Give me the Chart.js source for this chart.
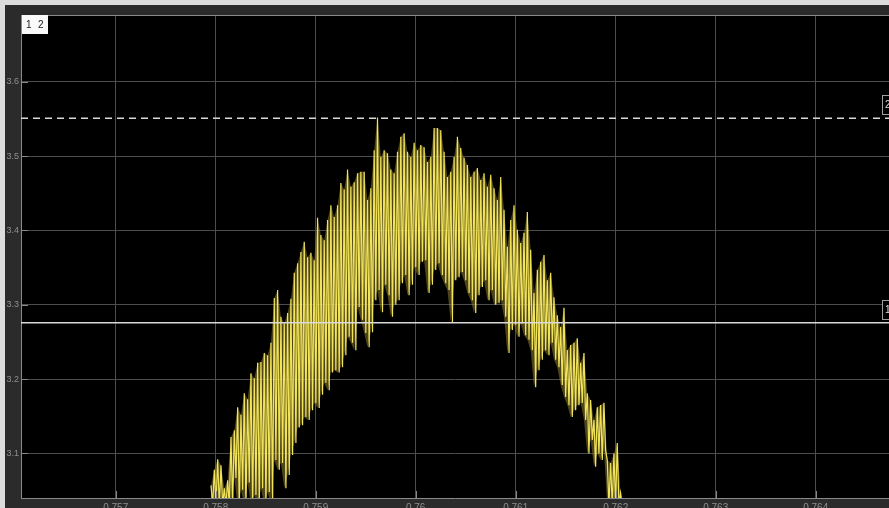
<!DOCTYPE html>
<html>
<head>
<meta charset="utf-8">
<script src="https://cdn.jsdelivr.net/npm/chart.js@4.4.1/dist/chart.umd.min.js"></script>
<style>
  html, body { margin: 0; padding: 0; background: #2b2b2b; overflow: hidden; }
  #scope { display: block; }
</style>
</head>
<body>
<canvas id="scope" width="889" height="508"></canvas>
<script>
// axis setup
const X_MIN = 0.756053;
const X_MAX = 0.764733;
const Y_MIN = 3.04;
const Y_MAX = 3.69;
const X_TICKS = [0.757, 0.758, 0.759, 0.76, 0.761, 0.762, 0.763, 0.764];
const X_TICK_LABELS = ["0.757", "0.758", "0.759", "0.76", "0.761", "0.762", "0.763", "0.764"];
const Y_TICKS = [3.1, 3.2, 3.3, 3.4, 3.5, 3.6];
const Y_TICK_LABELS = ["3.1", "3.2", "3.3", "3.4", "3.5", "3.6"];

// cursors: 1 = solid, 2 = dashed
const CURSOR_NAMES = ["1", "2"];
const CURSOR_LEVELS = [3.276, 3.551];

// sampled voltage: one peak + one trough per switching period
const SAMPLE_START = 0.757953;
const SAMPLE_STEP = 0.0000333;
const PEAKS = [
  3.057, 3.078, 3.092, 3.084, 3.053, 3.064, 3.122, 3.131, 3.162, 3.152,
  3.181, 3.173, 3.208, 3.201, 3.222, 3.223, 3.235, 3.232, 3.249, 3.309,
  3.320, 3.284, 3.275, 3.289, 3.308, 3.343, 3.356, 3.371, 3.385, 3.364,
  3.370, 3.360, 3.417, 3.394, 3.387, 3.414, 3.434, 3.418, 3.434, 3.464,
  3.455, 3.482, 3.459, 3.465, 3.477, 3.479, 3.479, 3.441, 3.457, 3.508,
  3.552, 3.499, 3.508, 3.504, 3.482, 3.477, 3.506, 3.526, 3.531, 3.506,
  3.499, 3.518, 3.508, 3.515, 3.512, 3.492, 3.499, 3.538, 3.538, 3.535,
  3.506, 3.472, 3.479, 3.499, 3.526, 3.511, 3.498, 3.488, 3.472, 3.479,
  3.484, 3.468, 3.477, 3.459, 3.475, 3.457, 3.441, 3.472, 3.428, 3.378,
  3.414, 3.434, 3.401, 3.383, 3.397, 3.425, 3.374, 3.316, 3.347, 3.358,
  3.367, 3.333, 3.343, 3.310, 3.286, 3.270, 3.296, 3.239, 3.246, 3.249,
  3.255, 3.222, 3.235, 3.181, 3.172, 3.145, 3.162, 3.165, 3.168, 3.091,
  3.087, 3.100, 3.114, 3.047
];
const TROUGHS = [
  3.030, 3.030, 3.030, 3.030, 3.030, 3.030, 3.030, 3.067, 3.030, 3.051,
  3.030, 3.061, 3.030, 3.044, 3.030, 3.053, 3.030, 3.048, 3.030, 3.091,
  3.078, 3.087, 3.053, 3.071, 3.098, 3.114, 3.135, 3.138, 3.149, 3.145,
  3.158, 3.168, 3.161, 3.179, 3.195, 3.185, 3.209, 3.212, 3.209, 3.216,
  3.232, 3.257, 3.249, 3.239, 3.297, 3.280, 3.262, 3.243, 3.263, 3.306,
  3.320, 3.290, 3.327, 3.313, 3.284, 3.300, 3.306, 3.329, 3.340, 3.313,
  3.327, 3.351, 3.340, 3.358, 3.360, 3.316, 3.327, 3.347, 3.356, 3.340,
  3.329, 3.320, 3.277, 3.333, 3.337, 3.344, 3.333, 3.316, 3.306, 3.289,
  3.313, 3.324, 3.333, 3.306, 3.320, 3.300, 3.302, 3.306, 3.284, 3.235,
  3.266, 3.273, 3.257, 3.275, 3.259, 3.253, 3.239, 3.189, 3.212, 3.226,
  3.239, 3.232, 3.249, 3.226, 3.216, 3.192, 3.176, 3.165, 3.149, 3.158,
  3.165, 3.168, 3.145, 3.100, 3.118, 3.082, 3.100, 3.091, 3.104, 3.030,
  3.030, 3.030, 3.030, 3.030
];

const FONT = "'Liberation Sans', Arial, sans-serif";

function sampleTime(i) {
  return SAMPLE_START + i * SAMPLE_STEP;
}

function signalPoints() {
  const pts = [];
  PEAKS.forEach((p, i) => {
    pts.push({ x: sampleTime(i), y: p });
    pts.push({ x: sampleTime(i) + SAMPLE_STEP / 2, y: TROUGHS[i] });
  });
  return pts;
}

function cursorLine(level, dash) {
  return {
    data: [{ x: X_MIN, y: level }, { x: X_MAX, y: level }],
    borderColor: "#d9d9d9",
    borderWidth: 1.5,
    borderDash: dash,
    pointRadius: 0,
    order: 0,
  };
}

// scope frame, inner tick marks, legend and cursor tags
const scopeFrame = {
  id: "scopeFrame",
  beforeDraw(chart) {
    const { ctx, chartArea: a, width, height } = chart;
    ctx.save();
    ctx.fillStyle = "#2b2b2b";
    ctx.fillRect(0, 0, width, height);
    ctx.fillStyle = "#dcdcdc";
    ctx.fillRect(0, 0, width, 5);
    ctx.fillRect(0, 0, 5, height);
    ctx.fillStyle = "#000";
    ctx.fillRect(a.left, a.top, a.right - a.left, a.bottom - a.top);
    ctx.restore();
  },
  afterDraw(chart) {
    const { ctx, chartArea: a, scales } = chart;
    ctx.save();
    ctx.strokeStyle = "#8a8a8a";
    ctx.lineWidth = 1;
    ctx.beginPath();
    scales.y.ticks.forEach((t) => {
      const y = Math.round(scales.y.getPixelForValue(t.value)) + 0.5;
      ctx.moveTo(a.left, y);
      ctx.lineTo(a.left + 7, y);
    });
    scales.x.ticks.forEach((t) => {
      const x = Math.round(scales.x.getPixelForValue(t.value)) + 0.5;
      ctx.moveTo(x, a.bottom);
      ctx.lineTo(x, a.bottom - 7);
    });
    ctx.moveTo(a.left, a.top + 0.5);
    ctx.lineTo(a.right, a.top + 0.5);
    ctx.stroke();

    // legend box
    ctx.fillStyle = "#fafafa";
    ctx.fillRect(a.left + 1, a.top, 26, 19);
    ctx.fillStyle = "#1a1a1a";
    ctx.font = "10px " + FONT;
    ctx.textBaseline = "middle";
    ctx.textAlign = "left";
    ctx.fillText("1", a.left + 5, a.top + 10);
    ctx.fillText("2", a.left + 17, a.top + 10);

    // cursor tags at the right edge
    CURSOR_LEVELS.forEach((lvl, i) => {
      const y = Math.round(scales.y.getPixelForValue(lvl));
      ctx.fillStyle = "#000";
      ctx.fillRect(a.right - 7, y - 23, 20, 20);
      ctx.strokeStyle = "#a0a0a0";
      ctx.strokeRect(a.right - 6.5, y - 22.5, 20, 19);
      ctx.fillStyle = "#dddddd";
      ctx.fillText(CURSOR_NAMES[i], a.right - 4, y - 13);
    });
    ctx.restore();
  },
};

new Chart(document.getElementById("scope"), {
  type: "line",
  data: {
    datasets: [
      cursorLine(CURSOR_LEVELS[0], []),
      cursorLine(CURSOR_LEVELS[1], [7, 5]),
      {
        data: signalPoints(),
        borderColor: "#f2e45a",
        borderWidth: 1.2,
        pointRadius: 0,
        tension: 0,
        order: 1,
      },
      // dim band between the peak and trough envelopes
      {
        data: PEAKS.map((p, i) => ({ x: sampleTime(i), y: p })),
        borderWidth: 0,
        pointRadius: 0,
        backgroundColor: "rgba(140, 125, 45, 0.55)",
        fill: "+1",
        order: 2,
      },
      {
        data: TROUGHS.map((v, i) => ({ x: sampleTime(i), y: v })),
        borderWidth: 0,
        pointRadius: 0,
        fill: false,
        order: 2,
      },
    ],
  },
  options: {
    responsive: false,
    animation: false,
    events: [],
    layout: { padding: { left: 5, top: 15, right: 0, bottom: 0 } },
    plugins: { legend: { display: false }, tooltip: { enabled: false } },
    scales: {
      x: {
        type: "linear",
        min: X_MIN,
        max: X_MAX,
        afterBuildTicks(scale) {
          scale.ticks = X_TICKS.map((v) => ({ value: v }));
        },
        afterFit(scale) {
          scale.height = 10;
        },
        grid: { color: "#4d4d4d", drawTicks: false },
        border: { display: true, color: "#8a8a8a" },
        ticks: {
          color: "#8f8f8f",
          font: { family: FONT, size: 10 },
          padding: 4,
          maxRotation: 0,
          autoSkip: false,
          callback: (v, i) => X_TICK_LABELS[i],
        },
      },
      y: {
        type: "linear",
        min: Y_MIN,
        max: Y_MAX,
        afterBuildTicks(scale) {
          scale.ticks = Y_TICKS.map((v) => ({ value: v }));
        },
        afterFit(scale) {
          scale.width = 16;
        },
        grid: { color: "#4d4d4d", drawTicks: false },
        border: { display: true, color: "#8a8a8a" },
        ticks: {
          color: "#8f8f8f",
          font: { family: FONT, size: 9 },
          padding: 2,
          callback: (v, i) => Y_TICK_LABELS[i],
        },
      },
    },
  },
  plugins: [scopeFrame],
});
</script>
</body>
</html>
